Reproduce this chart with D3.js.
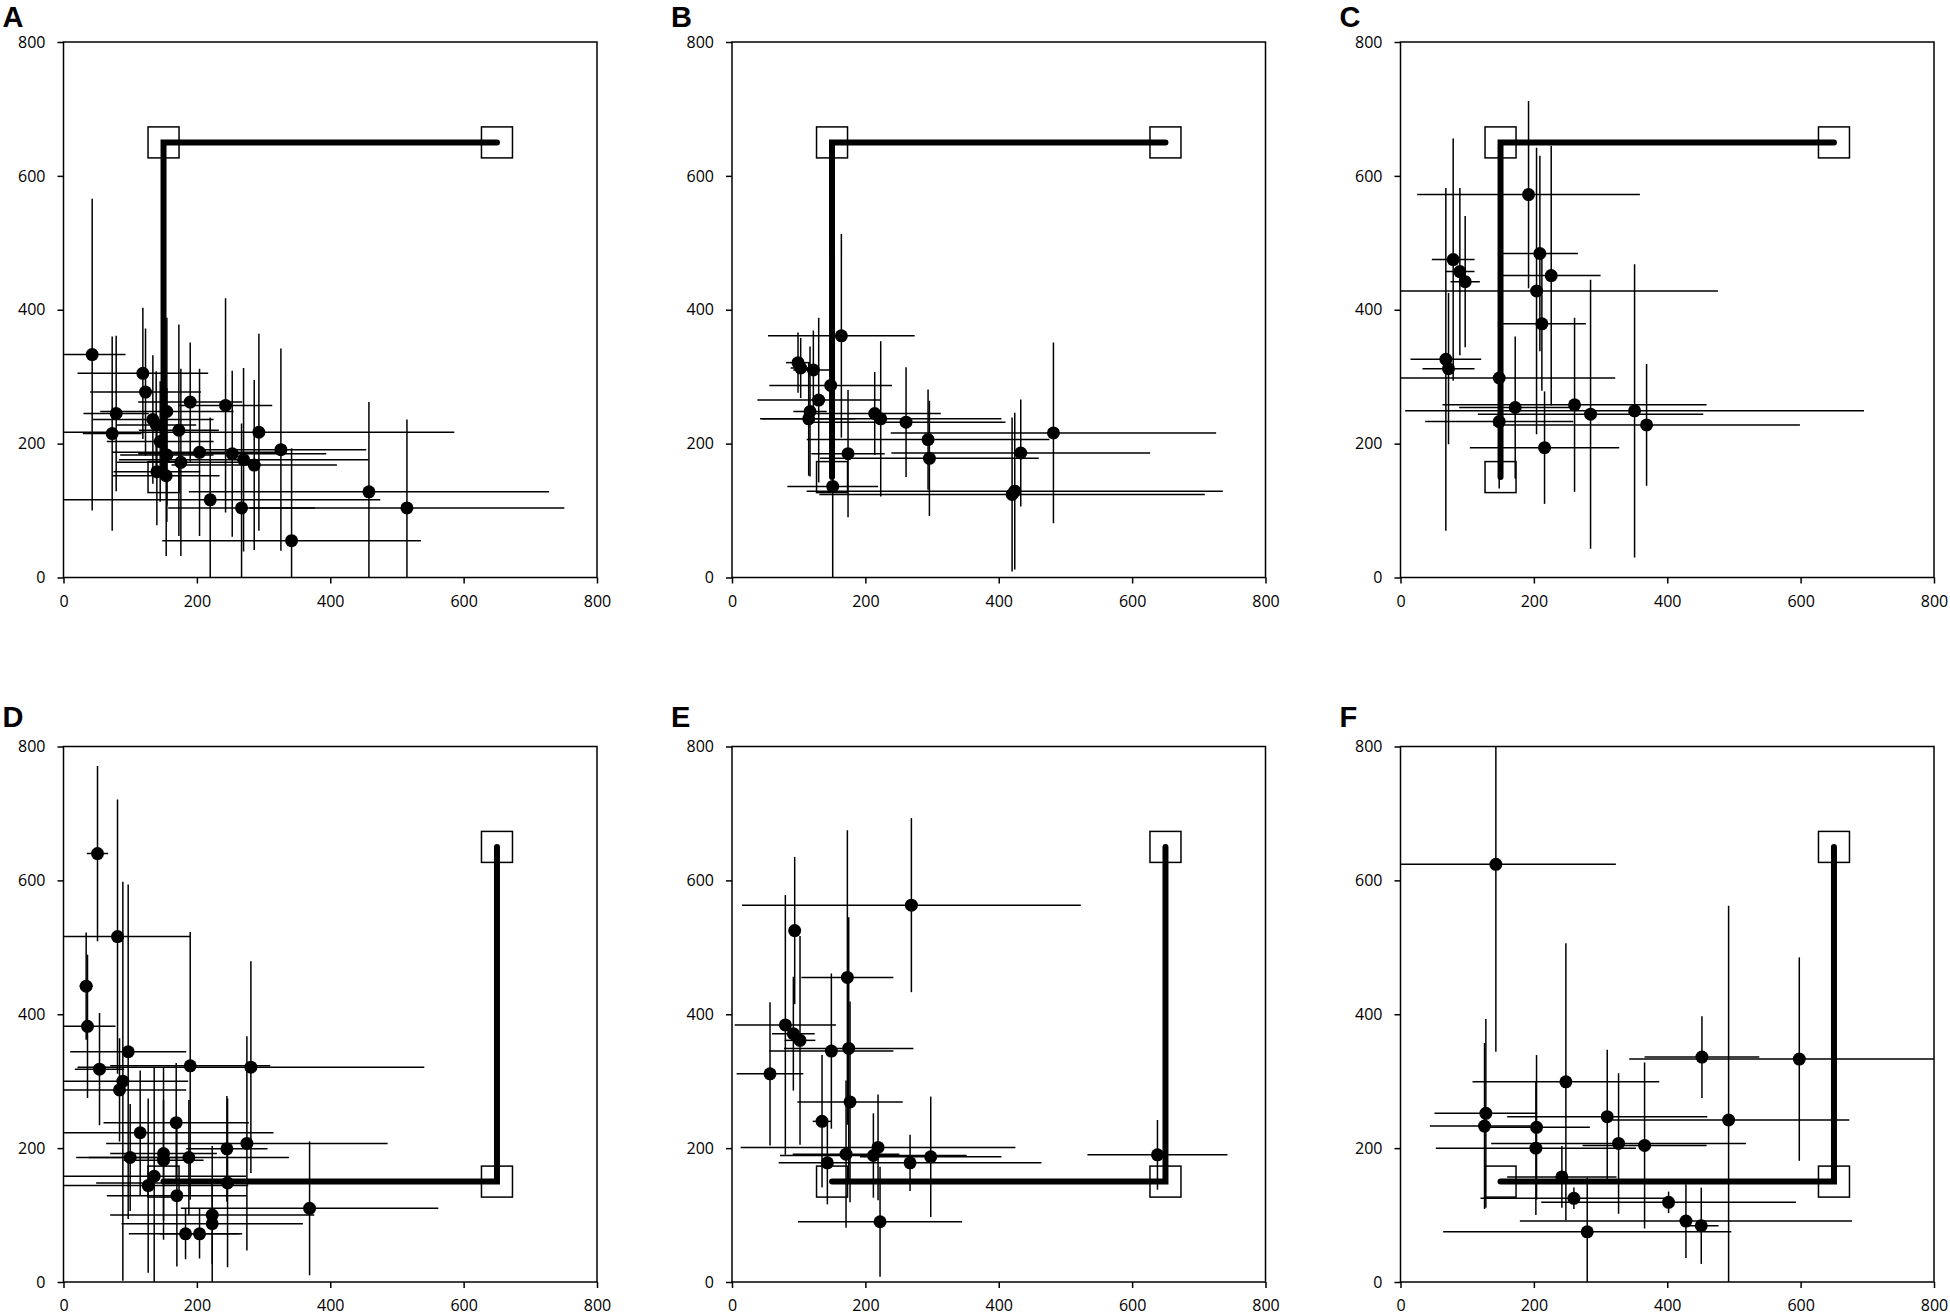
<!DOCTYPE html>
<html>
<head>
<meta charset="utf-8">
<script src="https://cdn.jsdelivr.net/npm/d3@7"></script>
<style>
  body { margin: 0; background: #fff; }
  svg { display: block; }
</style>
</head>
<body>
<script>
// ---- data (x, y, x error, y error) ----
const TICKS = [0, 200, 400, 600, 800];
const PANEL_LABELS = ["A", "B", "C", "D", "E", "F"];

const panelA = [
  [43,333,50,233],[119,305,98,98],[123,277,83,95],[79,245,49,116],[73,215,44,145],
  [293,217,293,147],[190,262,78,89],[243,257,70,160],[155,248,100,140],[134,236,91,96],
  [139,228,60,80],[173,220,60,158],[145,203,80,90],[204,187,130,125],[253,185,141,124],
  [270,176,187,137],[286,168,124,127],[326,191,128,151],[176,172,96,140],[155,183,70,100],
  [140,158,65,80],[154,152,80,120],[220,116,255,123],[267,104,110,126],[458,128,270,134],
  [515,104,236,132],[342,55,194,138]
];

const panelB = [
  [164,361,110,152],[99,321,18,45],[103,313,15,45],[122,310,30,59],[148,287,92,100],
  [130,265,92,123],[117,248,25,97],[115,237,70,85],[214,245,99,62],[223,237,181,116],
  [261,232,149,82],[294,206,182,75],[296,178,164,86],[174,185,55,95],[482,216,244,135],
  [433,186,194,80],[420,124,289,115],[424,129,312,117],[151,136,68,140]
];

const panelC = [
  [192,572,167,140],[79,475,32,181],[89,457,22,125],[97,442,22,98],[209,484,57,146],
  [226,451,74,194],[204,428,272,214],[212,379,66,100],[68,326,53,256],[72,312,39,113],
  [148,298,174,100],[172,254,84,106],[261,258,198,130],[285,244,169,201],[351,249,344,219],
  [369,228,230,91],[148,233,111,100],[216,194,112,84]
];

const panelD = [
  [51,640,16,131],[81,516,109,205],[34,442,10,80],[36,382,42,107],[97,344,87,250],
  [89,300,98,298],[84,287,100,77],[54,318,37,84],[190,323,120,200],[281,321,260,158],
  [169,238,109,89],[115,223,200,93],[245,199,61,79],[275,207,211,160],[100,186,81,80],
  [150,192,80,129],[150,182,60,90],[188,186,150,86],[136,158,138,163],[127,144,150,130],
  [246,148,197,126],[170,129,105,106],[369,110,193,100],[223,100,153,103],[223,87,136,60],
  [183,72,85,38],[204,72,60,37]
];

const panelE = [
  [269,563,254,130],[94,525,8,110],[173,455,69,220],[80,384,76,194],[92,371,32,85],
  [102,361,23,156],[149,345,93,116],[175,349,97,196],[57,311,50,107],[177,269,79,150],
  [135,240,14,99],[219,201,206,79],[171,191,80,110],[212,189,140,63],[298,187,106,90],
  [267,178,197,42],[143,178,10,62],[222,90,123,82],[638,190,105,52]
];

const panelF = [
  [143,624,180,280],[128,252,77,141],[126,233,82,124],[204,231,80,108],[203,200,150,100],
  [248,299,140,207],[310,247,150,100],[327,207,191,105],[366,204,93,124],[452,336,86,61],
  [598,333,255,152],[492,242,181,320],[242,157,82,46],[260,125,140,16],[402,119,191,16],
  [428,91,249,55],[451,84,26,57],[280,75,216,81]
];

// thick paths and the square markers at their corners
const routeUp = [[150,150],[150,650],[650,650]];
const routeRight = [[150,150],[650,150],[650,650]];

const PANELS = [panelA, panelB, panelC, panelD, panelE, panelF];
const ROUTES = [routeUp, routeUp, routeUp, routeRight, routeRight, routeRight];

// ---- layout ----
const W = 1950, H = 1315;
const colLeft = [63.5, 732, 1400.5];
const plotW = 533.5;
const rowTop = [42, 746.5];
const rowH = [535.5, 535.5];
const letterGap = [15, 20];
const SQ = 31;

const svg = d3.select("body").append("svg")
  .attr("width", W)
  .attr("height", H);

PANELS.forEach((pts, i) => {
  const col = i % 3, row = Math.floor(i / 3);
  const left = colLeft[col], top = rowTop[row], h = rowH[row];

  const x = d3.scaleLinear().domain([0, 800]).range([0, plotW]);
  const y = d3.scaleLinear().domain([0, 800]).range([h, 0]);

  const g = svg.append("g").attr("transform", `translate(${left},${top})`);

  const clipId = "clip" + i;
  g.append("clipPath").attr("id", clipId)
    .append("rect").attr("width", plotW).attr("height", h);

  // axes
  g.append("g")
    .call(d3.axisLeft(y).tickValues(TICKS).tickSize(6).tickPadding(12))
    .call(ax => ax.select(".domain").remove())
    .call(ax => ax.selectAll(".tick line").attr("stroke", "#000").attr("stroke-width", 1.5))
    .call(ax => ax.selectAll("text")
      .attr("font-family", "'Open Sans', sans-serif")
      .attr("font-size", 16)
      .attr("fill", "#000"));

  g.append("g")
    .attr("transform", `translate(0,${h})`)
    .call(d3.axisBottom(x).tickValues(TICKS).tickSize(6).tickPadding(12))
    .call(ax => ax.select(".domain").remove())
    .call(ax => ax.selectAll(".tick line").attr("stroke", "#000").attr("stroke-width", 1.5))
    .call(ax => ax.selectAll("text")
      .attr("font-family", "'Open Sans', sans-serif")
      .attr("font-size", 16)
      .attr("fill", "#000"));

  const inner = g.append("g").attr("clip-path", `url(#${clipId})`);

  // horizontal error bars
  inner.selectAll(".xerr")
    .data(pts)
    .join("line")
      .attr("class", "xerr")
      .attr("x1", d => x(d[0] - d[2]))
      .attr("x2", d => x(d[0] + d[2]))
      .attr("y1", d => y(d[1]))
      .attr("y2", d => y(d[1]))
      .attr("stroke", "#000")
      .attr("stroke-width", 1.5);

  // vertical error bars
  inner.selectAll(".yerr")
    .data(pts)
    .join("line")
      .attr("class", "yerr")
      .attr("x1", d => x(d[0]))
      .attr("x2", d => x(d[0]))
      .attr("y1", d => y(d[1] - d[3]))
      .attr("y2", d => y(d[1] + d[3]))
      .attr("stroke", "#000")
      .attr("stroke-width", 1.5);

  // thick path
  const line = d3.line().x(d => x(d[0])).y(d => y(d[1]));
  inner.append("path")
    .datum(ROUTES[i])
    .attr("d", line)
    .attr("fill", "none")
    .attr("stroke", "#000")
    .attr("stroke-width", 6)
    .attr("stroke-linecap", "round")
    .attr("stroke-linejoin", "miter");

  // square markers
  inner.selectAll(".sq")
    .data(ROUTES[i])
    .join("rect")
      .attr("class", "sq")
      .attr("x", d => x(d[0]) - SQ / 2)
      .attr("y", d => y(d[1]) - SQ / 2)
      .attr("width", SQ)
      .attr("height", SQ)
      .attr("fill", "none")
      .attr("stroke", "#000")
      .attr("stroke-width", 1.5);

  // points
  inner.selectAll(".pt")
    .data(pts)
    .join("circle")
      .attr("class", "pt")
      .attr("cx", d => x(d[0]))
      .attr("cy", d => y(d[1]))
      .attr("r", 6.5)
      .attr("fill", "#000");

  // frame
  g.append("rect")
    .attr("width", plotW)
    .attr("height", h)
    .attr("fill", "none")
    .attr("stroke", "#000")
    .attr("stroke-width", 1.5);

  // panel letter
  svg.append("text")
    .attr("x", left - 61)
    .attr("y", top - letterGap[row])
    .attr("font-family", "'Liberation Sans', Arial, sans-serif")
    .attr("font-weight", "bold")
    .attr("font-size", 29)
    .attr("fill", "#000")
    .text(PANEL_LABELS[i]);
});
</script>
</body>
</html>
